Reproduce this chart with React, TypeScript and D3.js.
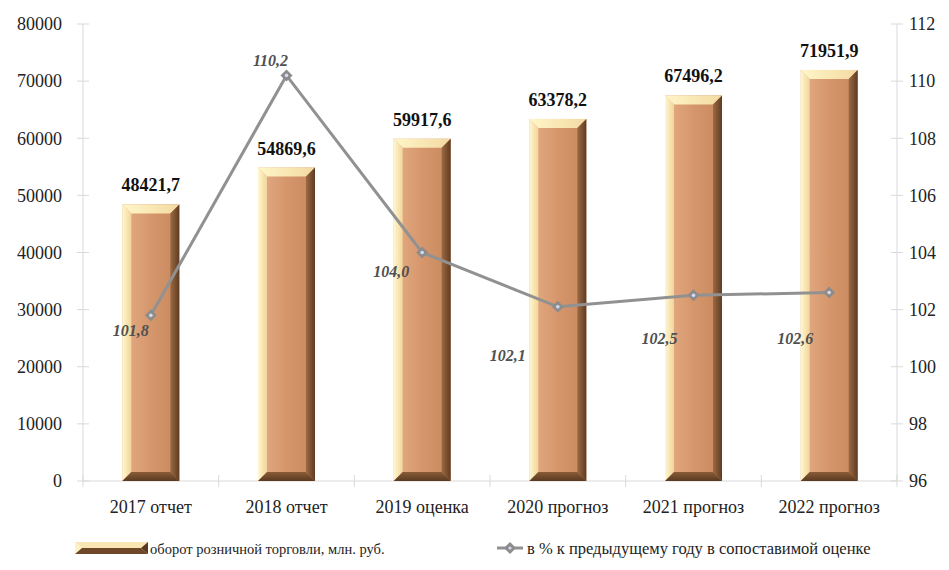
import React from 'react';
import * as d3 from 'd3';

const categories = ['2017 отчет', '2018 отчет', '2019 оценка', '2020 прогноз', '2021 прогноз', '2022 прогноз'];
const turnover = [48421.7, 54869.6, 59917.6, 63378.2, 67496.2, 71951.9];
const percent = [101.8, 110.2, 104.0, 102.1, 102.5, 102.6];
const leftTicks = [0, 10000, 20000, 30000, 40000, 50000, 60000, 70000, 80000];
const rightTicks = [96, 98, 100, 102, 104, 106, 108, 110, 112];
// label offsets relative to the point (dx, dy)
const pctLabelOffset: [number, number][] = [[-20, 15], [-16, -15], [-31, 19], [-50, 49], [-34, 43], [-34, 46]];

const width = 949;
const height = 570;
const margin = { top: 24, right: 52, bottom: 89, left: 83 };
const innerW = width - margin.left - margin.right;
const innerH = height - margin.top - margin.bottom;

const fmt = (v: number, d: number) => v.toFixed(d).replace('.', ',');
const serif = 'Liberation Serif';

const Bar = ({ x, y, w, h }: { x: number; y: number; w: number; h: number }) => {
  const b = 9;
  const x2 = x + w;
  const y2 = y + h;
  return (
    <g>
      <rect x={x} y={y} width={w} height={h} fill="url(#face)" />
      <polygon points={`${x},${y} ${x2},${y} ${x2 - b},${y + b} ${x + b},${y + b}`} fill="url(#topBev)" />
      <polygon points={`${x},${y} ${x + b},${y + b} ${x + b},${y2 - b} ${x},${y2}`} fill="url(#leftBev)" />
      <polygon points={`${x2},${y} ${x2},${y2} ${x2 - b},${y2 - b} ${x2 - b},${y + b}`} fill="url(#rightBev)" />
      <polygon points={`${x},${y2} ${x + b},${y2 - b} ${x2 - b},${y2 - b} ${x2},${y2}`} fill="url(#botBev)" />
    </g>
  );
};

const Diamond = ({ x, y }: { x: number; y: number }) => (
  <g>
    <path d={`M${x},${y - 6}L${x + 6},${y}L${x},${y + 6}L${x - 6},${y}Z`} fill="#8c8c8c" />
    <circle cx={x} cy={y} r={1.8} fill="#d8d8ee" />
  </g>
);

export default function App() {
  const x = d3.scaleBand().domain(categories).range([0, innerW]).paddingInner(0.58).paddingOuter(0.29);
  const yL = d3.scaleLinear().domain([0, 80000]).range([innerH, 0]);
  const yR = d3.scaleLinear().domain([96, 112]).range([innerH, 0]);
  const bw = x.bandwidth();
  const step = x.step();

  const line = d3
    .line<number>()
    .x((_, i) => x(categories[i])! + bw / 2)
    .y((d) => yR(d));

  const axisColor = '#d9d9d9';

  return (
    <svg width={width} height={height} style={{ position: 'absolute', left: 0, top: 0, background: '#fff' }} fontFamily={serif}>
      <defs>
        <linearGradient id="face" x1="0" x2="1" y1="0" y2="0">
          <stop offset="0" stopColor="#e4ad86" />
          <stop offset="0.5" stopColor="#d6966c" />
          <stop offset="1" stopColor="#c8885e" />
        </linearGradient>
        <linearGradient id="topBev" x1="0" x2="1" y1="0" y2="0">
          <stop offset="0" stopColor="#fff6c8" />
          <stop offset="1" stopColor="#f3d9a2" />
        </linearGradient>
        <linearGradient id="leftBev" x1="0" x2="1" y1="0" y2="0">
          <stop offset="0" stopColor="#fff8cf" />
          <stop offset="1" stopColor="#f2d49a" />
        </linearGradient>
        <linearGradient id="rightBev" x1="0" x2="1" y1="0" y2="0">
          <stop offset="0" stopColor="#9c6a43" />
          <stop offset="1" stopColor="#5e3c22" />
        </linearGradient>
        <linearGradient id="botBev" x1="0" x2="0" y1="0" y2="1">
          <stop offset="0" stopColor="#8a5c38" />
          <stop offset="1" stopColor="#5a3a20" />
        </linearGradient>
      </defs>
      <g transform={`translate(${margin.left},${margin.top})`}>
        {/* axes */}
        <line x1={0} x2={0} y1={0} y2={innerH} stroke={axisColor} />
        <line x1={innerW} x2={innerW} y1={0} y2={innerH} stroke={axisColor} />
        <line x1={0} x2={innerW} y1={innerH} y2={innerH} stroke={axisColor} />
        {leftTicks.map((t) => (
          <g key={t} transform={`translate(0,${yL(t)})`}>
            <line x1={-6} x2={6} stroke={axisColor} />
            <text x={-21} dy="0.35em" textAnchor="end" fontSize={18} fill="#222">{t}</text>
          </g>
        ))}
        {rightTicks.map((t) => (
          <g key={t} transform={`translate(${innerW},${yR(t)})`}>
            <line x1={-6} x2={6} stroke={axisColor} />
            <text x={12} dy="0.35em" textAnchor="start" fontSize={18} fill="#222">{t}</text>
          </g>
        ))}
        {d3.range(categories.length + 1).map((i) => (
          <line key={i} x1={i * step} x2={i * step} y1={innerH - 6} y2={innerH + 6} stroke={axisColor} />
        ))}
        {categories.map((c) => (
          <text key={c} x={x(c)! + bw / 2} y={innerH + 32} textAnchor="middle" fontSize={18} fill="#222">{c}</text>
        ))}
        {/* bars */}
        {turnover.map((v, i) => (
          <Bar key={i} x={x(categories[i])!} y={yL(v)} w={bw} h={innerH - yL(v)} />
        ))}
        {turnover.map((v, i) => (
          <text key={i} x={x(categories[i])! + bw / 2} y={yL(v) - 13} textAnchor="middle" fontSize={18} fontWeight="bold" fill="#111">
            {fmt(v, 1)}
          </text>
        ))}
        {/* line */}
        <path d={line(percent)!} fill="none" stroke="#919191" strokeWidth={3} />
        {percent.map((v, i) => (
          <Diamond key={i} x={x(categories[i])! + bw / 2} y={yR(v)} />
        ))}
        {percent.map((v, i) => (
          <text key={i} x={x(categories[i])! + bw / 2 + pctLabelOffset[i][0]} y={yR(v) + pctLabelOffset[i][1]} textAnchor="middle" dy="0.35em" fontSize={16} fontWeight="bold" fontStyle="italic" fill="#505050">
            {fmt(v, 1)}
          </text>
        ))}
      </g>
      {/* legend */}
      <g transform="translate(75,542)">
        <polygon points="0,0 73,0 66,6 7,6" fill="#f9e6b2" />
        <polygon points="0,0 7,6 0,12" fill="#fff3c2" />
        <rect x={7} y={6} width={59} height={1} fill="#c99a6a" />
        <polygon points="0,12 7,6 66,6 73,12" fill="#6e4828" />
        <polygon points="73,0 73,12 66,6" fill="#5a3a20" />
        <text x={75} y={12} fontSize={14.5} fill="#222">оборот розничной торговли, млн. руб.</text>
      </g>
      <g transform="translate(497,548)">
        <line x1={0} x2={26} stroke="#919191" strokeWidth={3} />
        <path d="M13,-6L19,0L13,6L7,0Z" fill="#8c8c8c" />
        <circle cx={13} cy={0} r={1.6} fill="#d8d8ee" />
        <text x={30} y={6} fontSize={16.5} fill="#222">в % к предыдущему году в сопоставимой оценке</text>
      </g>
    </svg>
  );
}
